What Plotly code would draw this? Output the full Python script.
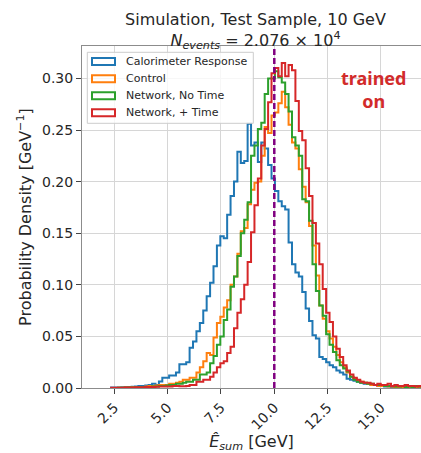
import plotly.graph_objects as go

# ---------------- data (probability density per bin, GeV^-1) ----------------
BIN_START = 2.35      # lower edge of the first bin [GeV]
BIN_WIDTH = 0.16      # bin width [GeV]
TRUE_ENERGY = 10.0    # generated beam energy [GeV]

calorimeter_response = [
    0.0005, 0.0005, 0.0005, 0.0008, 0.001, 0.001, 0.0012, 0.0015, 0.002, 0.002,
    0.0025, 0.003, 0.004, 0.003, 0.0064, 0.01, 0.01, 0.012, 0.012, 0.015,
    0.023, 0.023, 0.025, 0.039, 0.045, 0.055, 0.063, 0.075, 0.089, 0.102,
    0.118, 0.138, 0.147, 0.145, 0.168, 0.186, 0.2, 0.229, 0.218, 0.22,
    0.256, 0.235, 0.238, 0.219, 0.238, 0.232, 0.216, 0.203, 0.191, 0.181,
    0.176, 0.173, 0.141, 0.12, 0.112, 0.108, 0.093, 0.077, 0.065, 0.051,
    0.048, 0.03, 0.028, 0.025, 0.022, 0.02, 0.017, 0.015, 0.013, 0.009,
    0.008, 0.007, 0.006, 0.005, 0.004, 0.004, 0.003, 0.003, 0.002, 0.002,
    0.0015, 0.0015, 0.001, 0.001, 0.001, 0.0008, 0.0005, 0.0005, 0.0005, 0.0003,
    0.0003, 0.0002,
]

control = [
    0.0, 0.0, 0.0002, 0.0003, 0.0005, 0.0005, 0.0008, 0.0008, 0.001, 0.001,
    0.0015, 0.002, 0.002, 0.0025, 0.003, 0.003, 0.003, 0.004, 0.004, 0.005,
    0.006, 0.008, 0.008, 0.01, 0.01, 0.015, 0.02, 0.026, 0.034, 0.032,
    0.049, 0.063, 0.069, 0.078, 0.085, 0.1, 0.108, 0.13, 0.152, 0.155,
    0.178, 0.192, 0.199, 0.2, 0.225, 0.253, 0.247, 0.264, 0.267, 0.276,
    0.287, 0.272, 0.255, 0.238, 0.232, 0.212, 0.195, 0.18, 0.157, 0.138,
    0.109, 0.08, 0.067, 0.055, 0.048, 0.04, 0.032, 0.025, 0.02, 0.015,
    0.011, 0.009, 0.007, 0.006, 0.005, 0.004, 0.003, 0.003, 0.002, 0.002,
    0.002, 0.0015, 0.0015, 0.001, 0.001, 0.001, 0.0008, 0.0008, 0.0005, 0.0005,
    0.0005, 0.0003,
]

network_no_time = [
    0.0, 0.0, 0.0002, 0.0003, 0.0003, 0.0005, 0.0005, 0.0008, 0.0008, 0.001,
    0.001, 0.001, 0.0015, 0.0015, 0.002, 0.002, 0.0025, 0.003, 0.003, 0.004,
    0.004, 0.005, 0.006, 0.006, 0.008, 0.008, 0.013, 0.013, 0.015, 0.024,
    0.031, 0.042, 0.05, 0.066, 0.076, 0.098, 0.108, 0.128, 0.15, 0.163,
    0.18, 0.225, 0.235, 0.251, 0.257, 0.285, 0.3, 0.3, 0.307, 0.301,
    0.296, 0.285, 0.268, 0.243, 0.235, 0.225, 0.183, 0.181, 0.162, 0.12,
    0.094, 0.08, 0.07, 0.052, 0.042, 0.035, 0.027, 0.022, 0.019, 0.016,
    0.011, 0.008, 0.006, 0.005, 0.005, 0.004, 0.004, 0.003, 0.003, 0.003,
    0.002, 0.002, 0.002, 0.0015, 0.0015, 0.002, 0.001, 0.0015, 0.001, 0.002,
    0.0015, 0.002,
]

network_plus_time = [
    0.0002, 0.0003, 0.0003, 0.0003, 0.0005, 0.0005, 0.0005, 0.0008, 0.0008, 0.0008,
    0.001, 0.001, 0.001, 0.0012, 0.0015, 0.0015, 0.0015, 0.0015, 0.002, 0.002,
    0.0016, 0.0016, 0.002, 0.003, 0.003, 0.006, 0.006, 0.008, 0.008, 0.011,
    0.015, 0.02, 0.024, 0.026, 0.034, 0.04, 0.058, 0.073, 0.086, 0.1,
    0.122, 0.151, 0.177, 0.203, 0.235, 0.251, 0.277, 0.305, 0.31, 0.302,
    0.315, 0.302, 0.313, 0.308, 0.278, 0.249, 0.24, 0.213, 0.186, 0.16,
    0.14, 0.12, 0.096, 0.073, 0.064, 0.05, 0.038, 0.03, 0.022, 0.017,
    0.013, 0.01, 0.008, 0.006, 0.005, 0.005, 0.004, 0.003, 0.004, 0.003,
    0.003, 0.004, 0.002, 0.003, 0.002, 0.002, 0.003, 0.002, 0.002, 0.0015,
    0.002, 0.0015,
]

SERIES_NAMES = ["Calorimeter Response", "Control", "Network, No Time", "Network, + Time"]
SERIES_VALUES = [calorimeter_response, control, network_no_time, network_plus_time]
SERIES_COLORS = ["#1f77b4", "#ff7f0e", "#2ca02c", "#d62728"]

X_TICKS = [2.5, 5.0, 7.5, 10.0, 12.5, 15.0]
Y_TICKS = [0.0, 0.05, 0.10, 0.15, 0.20, 0.25, 0.30]

# ---------------- layout geometry ----------------
W, H = 421, 453
ML, MR, MT, MB = 82, 0, 46, 65
X_RANGE = [0.985, 16.878]
Y_RANGE = [0.0, 0.3314]
FONT = "DejaVu Sans"
TXT = "#262626"


def fx(px):
    return (px - ML) / (W - ML - MR)


def fy(py):
    return (H - MB - py) / (H - MT - MB)


def step_xy(values):
    edges = [BIN_START + i * BIN_WIDTH for i in range(len(values) + 1)]
    xs = [edges[0]] + edges[:-1] + [edges[-1], edges[-1]]
    ys = [0.0] + list(values) + [values[-1], 0.0]
    return xs, ys


fig = go.Figure()
for name, vals, col in zip(SERIES_NAMES, SERIES_VALUES, SERIES_COLORS):
    xs, ys = step_xy(vals)
    fig.add_trace(go.Scatter(
        x=xs, y=ys, mode="lines", name=name,
        line=dict(color=col, width=2, shape="hv"),
        showlegend=False, hoverinfo="skip",
    ))

# true-energy marker
fig.add_shape(type="line", xref="x", yref="paper", x0=TRUE_ENERGY, x1=TRUE_ENERGY,
              y0=0, y1=1, line=dict(color="#800080", width=2.5, dash="6px,3px"),
              layer="above")

# legend drawn by hand (matplotlib-style outlined patches)
fig.add_shape(type="rect", xref="paper", yref="paper",
              x0=fx(87.3), x1=fx(253.3), y0=fy(123.3), y1=fy(52.3),
              line=dict(color="#cccccc", width=1), fillcolor="rgba(255,255,255,0.8)",
              layer="above")
row_y = [61.5, 78.7, 95.7, 112.8]
for name, col, yc in zip(SERIES_NAMES, SERIES_COLORS, row_y):
    fig.add_shape(type="rect", xref="paper", yref="paper",
                  x0=fx(92), x1=fx(115), y0=fy(yc + 3.5), y1=fy(yc - 3.5),
                  line=dict(color=col, width=2), fillcolor="rgba(0,0,0,0)", layer="above")
    fig.add_annotation(xref="paper", yref="paper", x=fx(123.5), y=fy(yc),
                       text=name, showarrow=False, xanchor="left", yanchor="middle",
                       font=dict(family=FONT, size=11, color=TXT))

fig.add_annotation(xref="paper", yref="paper", x=fx(373), y=fy(89),
                   text="<b>trained<br>on</b>", showarrow=False,
                   xanchor="center", yanchor="middle", align="center",
                   font=dict(family="Noto Sans", size=18, color="#d22b2b"))

fig.update_layout(
    width=W, height=H,
    margin=dict(l=ML, r=MR, t=MT, b=MB, autoexpand=False),
    paper_bgcolor="white", plot_bgcolor="white",
    font=dict(family=FONT, color=TXT),
    title=dict(
        text="Simulation, Test Sample, 10 GeV<br><i>N</i><sub><i>events</i></sub> = 2.076 × 10<sup>4</sup>",
        font=dict(family=FONT, size=16, color=TXT),
        xref="paper", x=fx(255.5), xanchor="center",
        yref="container", y=0.945, yanchor="top",
    ),
    showlegend=False,
)
fig.update_xaxes(
    range=X_RANGE, tickvals=X_TICKS, ticktext=[f"{v:.1f}" for v in X_TICKS],
    tickangle=-45, tickfont=dict(family=FONT, size=14, color=TXT),
    ticks="outside", ticklen=5, tickcolor="#444", tickwidth=1,
    showgrid=True, gridcolor="#d6d6d6", gridwidth=1, zeroline=False,
    showline=True, linecolor="#8c8c8c", linewidth=1, mirror=True,
    title=dict(text="<i>Ê</i><sub><i>sum</i></sub> [GeV]",
               font=dict(family=FONT, size=16, color=TXT), standoff=6),
)
fig.update_yaxes(
    range=Y_RANGE, tickvals=Y_TICKS, ticktext=[f"{v:.2f}" for v in Y_TICKS],
    tickfont=dict(family=FONT, size=14, color=TXT),
    ticks="outside", ticklen=5, tickcolor="#444", tickwidth=1,
    showgrid=True, gridcolor="#d6d6d6", gridwidth=1, zeroline=False,
    showline=True, linecolor="#8c8c8c", linewidth=1, mirror=True,
    title=dict(text="Probability Density [GeV<sup>−1</sup>]",
               font=dict(family=FONT, size=16, color=TXT), standoff=6),
)

fig.write_html("out.html")
